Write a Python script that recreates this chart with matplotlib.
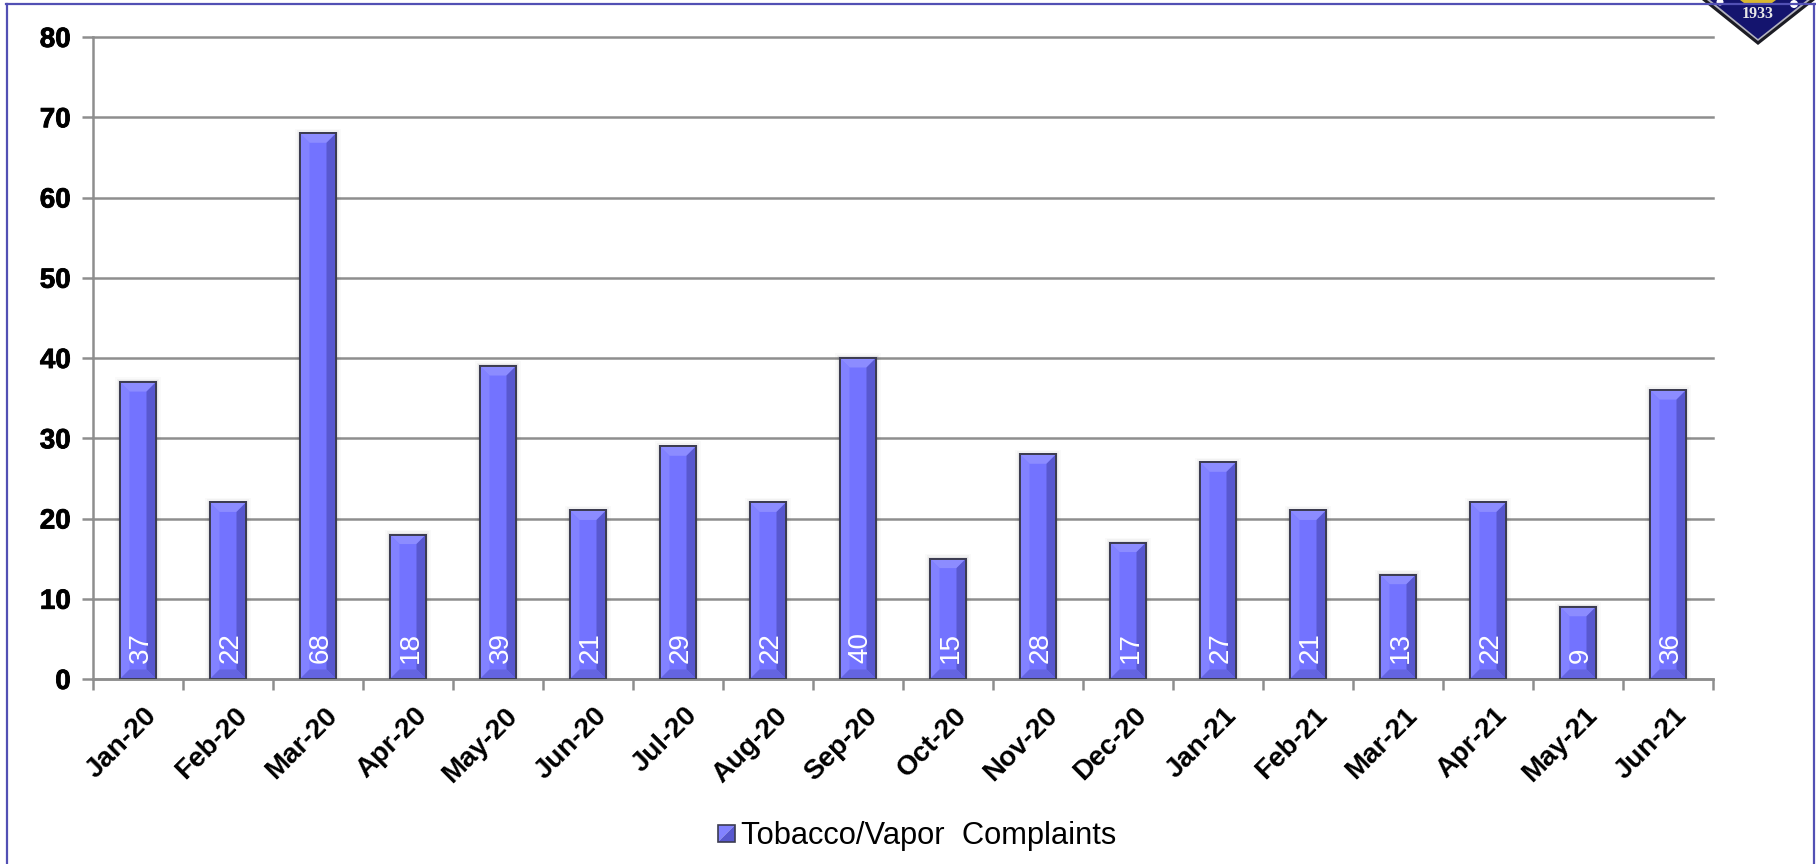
#!/usr/bin/env python3
"""Monthly tobacco/vapor complaints as a bevelled bar chart."""

import matplotlib
matplotlib.use('Agg')
import matplotlib.pyplot as plt
import matplotlib.patheffects as pe
from matplotlib.patches import Polygon, Rectangle, Circle
from matplotlib.lines import Line2D
from matplotlib.transforms import ScaledTranslation

months = ['Jan-20', 'Feb-20', 'Mar-20', 'Apr-20', 'May-20', 'Jun-20',
          'Jul-20', 'Aug-20', 'Sep-20', 'Oct-20', 'Nov-20', 'Dec-20',
          'Jan-21', 'Feb-21', 'Mar-21', 'Apr-21', 'May-21', 'Jun-21']
complaints = [37, 22, 68, 18, 39, 21, 29, 22, 40, 15, 28, 17, 27, 21, 13, 22, 9, 36]
series_name = 'Tobacco/Vapor  Complaints'

# Colors
color_face = '#7373ff'
color_light = '#8282ff'
color_top = '#8c8cff'
color_dark = '#5858cf'
color_bottom = '#6464e0'
color_edge = '#3c3c50'
color_grid = '#8e8e8e'
color_frame = '#5250b4'

W, H = 1816, 864
fig = plt.figure(figsize=(W / 100, H / 100), dpi=100, facecolor='white')
ax = fig.add_axes([93 / W, 1 - 679 / H, (1713 - 93) / W, (679 - 37) / H])

bars = ax.bar(range(len(months)), complaints, width=0.4, color=color_face,
              edgecolor=color_edge, linewidth=1.4, zorder=3)

ax.set_xlim(-0.5, len(months) - 0.5)
ax.set_ylim(0, 80)
ax.set_yticks(range(0, 81, 10))
ax.grid(axis='y', color=color_grid, linewidth=1.8, zorder=1)
ax.set_axisbelow(True)
for gl in ax.get_ygridlines():
    gl.set_clip_on(False)

# bevel widths in data units (about 9 px on each side)
bev_x = 9.5 / 90.0
bev_y = 9.5 / 8.03


def add_bevel(ax, bar):
    x0, w = bar.get_x(), bar.get_width()
    h = bar.get_height()
    x1 = x0 + w
    ix0, ix1 = x0 + bev_x, x1 - bev_x
    iy0, iy1 = bev_y, h - bev_y
    faces = [
        ([(x0, 0), (ix0, iy0), (ix0, iy1), (x0, h)], color_light),
        ([(x0, h), (ix0, iy1), (ix1, iy1), (x1, h)], color_top),
        ([(x1, 0), (ix1, iy0), (ix1, iy1), (x1, h)], color_dark),
        ([(x0, 0), (ix0, iy0), (ix1, iy0), (x1, 0)], color_bottom),
    ]
    for pts, col in faces:
        ax.add_patch(Polygon(pts, closed=True, facecolor=col, edgecolor='none', zorder=3.2))
    # outline goes back on top of the bevel
    ax.add_patch(Rectangle((x0, 0), w, h, facecolor='none', edgecolor=color_edge,
                           linewidth=1.4, zorder=3.4))
    # soft shadow to the sides
    for i, alpha in enumerate([0.05, 0.03, 0.02]):
        pad = (i + 1) * 1.6 / 90.0
        ax.add_patch(Rectangle((x0 - pad, 0), w + 2 * pad, h + pad * 90 / 8.03,
                               facecolor='black', edgecolor='none', alpha=alpha, zorder=2))


for bar, val in zip(bars, complaints):
    add_bevel(ax, bar)
    ax.text(bar.get_x() + bar.get_width() / 2 + 0.028, 2.0, str(val), rotation=90,
            ha='center', va='bottom', color='white', fontsize=20,
            family='Liberation Sans', zorder=5)

# Axis styling: ticks sit between the bars, labels under the bars
for side in ['top', 'right']:
    ax.spines[side].set_visible(False)
for side in ['left', 'bottom']:
    ax.spines[side].set_color(color_grid)
    ax.spines[side].set_linewidth(1.8)

ax.set_xticks([i - 0.5 for i in range(len(months) + 1)])
ax.set_xticklabels([])
ax.set_xticks(range(len(months)), minor=True)
ax.set_xticklabels(months, minor=True, rotation=45, ha='right', rotation_mode='anchor',
                   fontsize=20, fontweight='bold', family='Liberation Sans')
ax.tick_params(axis='x', which='minor', length=0, pad=17)
ax.tick_params(axis='x', which='major', length=8, width=1.8, color=color_grid)
ax.tick_params(axis='y', length=8, width=1.8, color=color_grid, pad=8)

# nudge the slanted month labels to the right of their anchors
nudge = ScaledTranslation(6 / 100, 0, fig.dpi_scale_trans)
for lab in ax.get_xticklabels(minor=True):
    lab.set_transform(lab.get_transform() + nudge)

heavy = [pe.withStroke(linewidth=0.6, foreground='black')]
for lab in ax.get_yticklabels():
    lab.set_fontsize(20)
    lab.set_fontweight('bold')
    lab.set_family('Liberation Sans')
    lab.set_path_effects(heavy)

# Overlay in pixel coordinates for the page frame, crest and legend
over = fig.add_axes([0, 0, 1, 1], zorder=10)
over.set_xlim(0, W)
over.set_ylim(H, 0)
over.axis('off')
over.patch.set_alpha(0)

# Crest in the corner
over.add_patch(Polygon([(1702, 0), (1758, 45), (1815, 0)], closed=True, facecolor='#1c1c24', edgecolor='none'))
over.add_patch(Polygon([(1707, 0), (1758, 41), (1810, 0)], closed=True, facecolor='#b4b4c0', edgecolor='none'))
over.add_patch(Polygon([(1710, 0), (1758, 39), (1807, 0)], closed=True, facecolor='#14146e', edgecolor='none'))
over.add_patch(Polygon([(1740, 0), (1744, 3), (1772, 3), (1776, 0)], closed=True, facecolor='#d8b830', edgecolor='none'))
over.add_patch(Circle((1720, 2), 3.5, facecolor='white', edgecolor='none'))
over.add_patch(Circle((1794, 4), 4, facecolor='white', edgecolor='none'))
over.text(1758, 14, '1933', ha='center', va='center', color='#e8e8e8', fontsize=11.5,
          fontweight='bold', family='Liberation Serif')

# Page frame
over.add_line(Line2D([7, 7], [4, H], color=color_frame, linewidth=1.6))
over.add_line(Line2D([6, 1815], [4, 4], color=color_frame, linewidth=1.6))
over.add_line(Line2D([1814, 1814], [4, H], color=color_frame, linewidth=1.6))

# Legend
over.add_patch(Polygon([(718, 842), (718, 825), (735, 825)], closed=True, facecolor=color_light, edgecolor='none'))
over.add_patch(Polygon([(718, 842), (735, 825), (735, 842)], closed=True, facecolor=color_dark, edgecolor='none'))
over.add_patch(Rectangle((718, 825), 17, 17, facecolor='none', edgecolor=color_edge, linewidth=1.2))
over.text(741, 836, series_name, ha='left', va='center', fontsize=22.2,
          family='Liberation Sans', color='black')

fig.savefig('out.png', dpi=100, facecolor='white')
